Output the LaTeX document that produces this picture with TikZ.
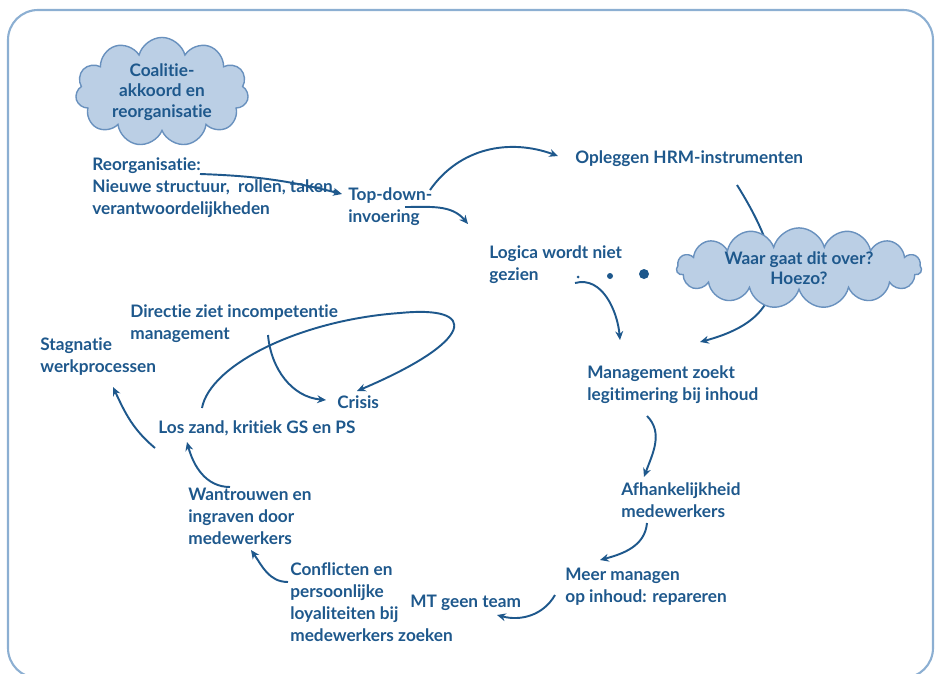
\documentclass[tikz,border=0pt]{standalone}
\usepackage{fontspec}
\setmainfont{Lato}[Ligatures=NoCommon]
\usetikzlibrary{shapes.symbols,arrows.meta}
\definecolor{donker}{RGB}{30,88,140}
\definecolor{wolk}{RGB}{187,207,229}
\definecolor{wolkrand}{RGB}{105,145,190}
\definecolor{kader}{RGB}{140,175,210}
\tikzset{
  lbl/.style={anchor=base west, align=left, inner sep=0pt, text=donker,
    font=\bfseries\fontsize{9.8}{12.5}\selectfont},
  pijl/.style={draw=donker, line width=1.1pt, -{Stealth[length=5pt,width=4.5pt]}},
  wolkje/.style={cloud, draw=wolkrand, fill=wolk, line width=0.8pt, text=donker,
    align=center, inner sep=0pt, font=\bfseries\fontsize{9.8}{11.5}\selectfont}
}
\begin{document}
\begin{tikzpicture}[x=0.02cm,y=-0.02cm]
\useasboundingbox (0,0) rectangle (940,673);
\draw[kader, line width=1.2pt, rounded corners=0.6cm] (8,10) rectangle (933,678);

\node[lbl] (reorg) at (92,214) {Reorganisatie:\\Nieuwe structuur,\ \ rollen, taken,\\verantwoordelijkheden};
\node[lbl] (topdown) at (348,222) {Top-down-\\invoering};
\node[lbl] (opleggen) at (575,163) {Opleggen HRM-instrumenten};
\node[lbl] (logica) at (489,280) {Logica wordt niet\\gezien};
\node[lbl] (mgmt) at (587,400) {Management zoekt\\legitimering bij inhoud};
\node[lbl] (afh) at (621,517) {Afhankelijkheid\\medewerkers};
\node[lbl] (meer) at (565,602) {Meer managen\\op inhoud: repareren};
\node[lbl] (mt) at (410,607) {MT geen team};
\node[lbl] (confl) at (290,641) {Conflicten en\\persoonlijke\\loyaliteiten bij\\medewerkers zoeken};
\node[lbl] (wantr) at (188,544) {Wantrouwen en\\ingraven door\\medewerkers};
\node[lbl] (los) at (158,433) {Los zand, kritiek GS en PS};
\node[lbl] (crisis) at (337,408) {Crisis};
\node[lbl] (directie) at (130,339) {Directie ziet incompetentie\\management};
\node[lbl] (stagnatie) at (40,372) {Stagnatie\\werkprocessen};
\coordinate (looptop) at (400,313);

\fill[donker] (578,277) circle (1.5);
\fill[donker] (610,276) circle (3);
\fill[donker] (644,274) circle (5);

\draw[pijl] ([shift={(108,-40)}]reorg.base west) to[bend left=6] ([shift={(-6,-28)}]topdown.base west);
\draw[pijl] ([shift={(82,-32)}]topdown.base west) to[out=55,in=160] ([shift={(-17,-7)}]opleggen.base west);
\draw[pijl] ([shift={(57,-15)}]topdown.base west) to[out=0,in=130] ([shift={(-21,-56)}]logica.base west);
\draw[pijl] ([shift={(162,22)}]opleggen.base west) to[out=-58,in=15,looseness=1.5] ([shift={(113,-58)}]mgmt.base west);
\draw[pijl] ([shift={(86,3)}]logica.base west) to[out=15,in=95] ([shift={(33,-60)}]mgmt.base west);
\draw[pijl] ([shift={(60,16)}]mgmt.base west) to[out=-45,in=70] ([shift={(23,-40)}]afh.base west);
\draw[pijl] ([shift={(26,6)}]afh.base west) to[out=-95,in=15] ([shift={(35,-42)}]meer.base west);
\draw[pijl] ([shift={(-10,-7)}]meer.base west) to[out=-120,in=-15] ([shift={(87,8)}]mt.base west);
\draw[pijl] ([shift={(-2,-59)}]confl.base west) to[out=180,in=-55] ([shift={(63,6)}]wantr.base west);
\draw[pijl] ([shift={(42,-57)}]wantr.base west) to[out=180,in=-75] ([shift={(29,9)}]los.base west);
\draw[pijl] ([shift={(-3,15)}]los.base west) to[out=140,in=-65] ([shift={(73,15)}]stagnatie.base west);
\draw[pijl] ([shift={(138,-4)}]directie.base west) to[out=-85,in=175] ([shift={(-11,-8)}]crisis.base west);
\draw[pijl] ([shift={(44,-25)}]los.base west) .. controls +(8,-43) and +(-100,7) .. (looptop)
  .. controls +(80,-8) and +(118,-50) .. ([shift={(20,-17)}]crisis.base west);

\node[wolkje, minimum width=3.46cm, minimum height=1.82cm, cloud puffs=11, aspect=1.9] (coalitie) at (162,92) {Coalitie-\\akkoord en\\reorganisatie};
\node[wolkje, minimum width=4.9cm, minimum height=1.05cm, cloud puffs=15, aspect=4.6] (waar) at (799,268) {Waar gaat dit over?\\Hoezo?};
\end{tikzpicture}
\end{document}
